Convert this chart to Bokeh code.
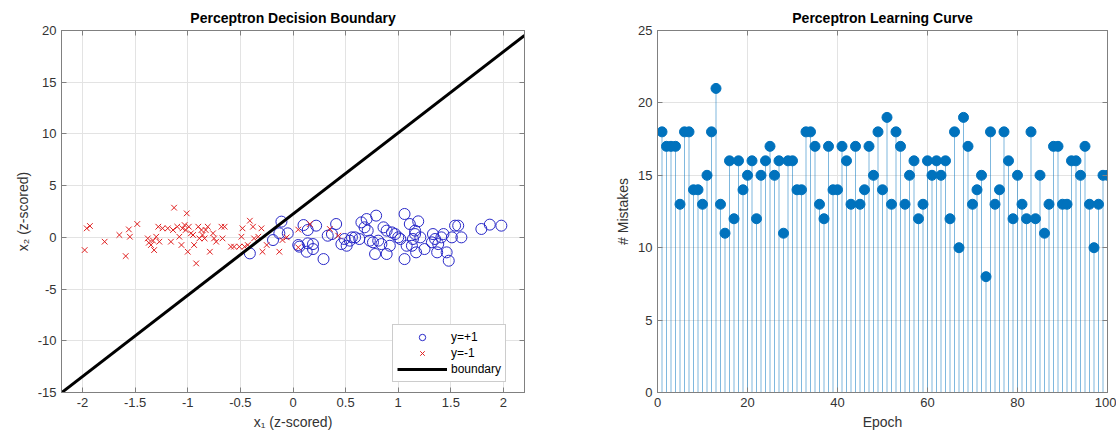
from bokeh.plotting import figure
from bokeh.layouts import row
from bokeh.models import LinearAxis, Range1d, FixedTicker, Legend, LegendItem, ColumnDataSource
from bokeh.embed import file_html
from bokeh.resources import INLINE

# ---------------- data: decision boundary plot ----------------
pos_x1 = [-0.41, -0.19, -0.11, -0.13, -0.05, 0.05, 0.06, 0.10, 0.13, 0.14, 0.14, 0.19, 0.19, 0.22,
          0.29, 0.33, 0.37, 0.41, 0.46, 0.49, 0.51, 0.54, 0.56, 0.59, 0.63, 0.65, 0.68, 0.70, 0.71,
          0.73, 0.76, 0.78, 0.79, 0.81, 0.84, 0.86, 0.89, 0.89, 0.92, 0.94, 0.97, 1.00, 1.02, 1.06,
          1.06, 1.08, 1.11, 1.13, 1.14, 1.16, 1.16, 1.17, 1.19, 1.21, 1.25, 1.32, 1.33, 1.35, 1.37,
          1.38, 1.41, 1.43, 1.46, 1.48, 1.51, 1.54, 1.57, 1.60, 1.79, 1.87, 1.98]
pos_x2 = [-1.55, -0.26, 1.52, 0.39, 0.39, -0.74, -0.90, 1.19, -1.39, 0.71, -0.58, -1.13, -0.65, 1.13,
          -2.10, 0.16, 0.32, 1.29, -0.65, -0.16, -0.81, -0.32, 0.00, 0.00, -0.16, 1.45, 0.97, 1.77, 0.65,
          -0.32, -0.48, -1.61, 2.10, -0.32, -0.65, 0.97, 0.65, -1.61, -0.81, 0.48, 0.32, 0.00, -0.16, -2.10,
          2.26, -0.81, 1.29, -0.81, -0.16, 0.65, 0.32, -1.45, 1.55, 0.00, -1.13, -0.48, 0.32, -0.16, -1.45,
          -0.65, 0.00, 0.32, -1.45, -2.26, 0.00, 1.13, 1.13, 0.00, 0.81, 1.23, 1.13]

neg_x1 = [-1.98, -1.96, -1.93, -1.79, -1.65, -1.59, -1.56, -1.55, -1.48, -1.38, -1.37, -1.35, -1.33,
          -1.32, -1.30, -1.28, -1.27, -1.24, -1.19, -1.16, -1.14, -1.13, -1.10, -1.08, -1.06, -1.05,
          -1.03, -1.02, -1.01, -1.00, -0.99, -0.97, -0.95, -0.94, -0.92, -0.90, -0.89, -0.87, -0.86,
          -0.84, -0.83, -0.81, -0.79, -0.76, -0.75, -0.73, -0.68, -0.67, -0.65, -0.59, -0.56, -0.51,
          -0.49, -0.48, -0.46, -0.43, -0.41, -0.38, -0.37, -0.33, -0.30, -0.29, -0.25, -0.13, -0.10,
          -0.06, 0.05, 0.05, 0.16, 0.35, 0.43]
neg_x2 = [-1.23, 0.87, 1.10, -0.42, 0.23, -1.81, 0.77, 0.06, 1.29, -0.10, -0.52, -0.74, -0.32,
          -1.23, 0.06, 1.03, -0.42, 0.87, 0.87, -0.42, 0.71, 2.87, 1.03, 0.06, -0.74, 0.87,
          1.19, 0.71, 2.32, -1.39, 1.03, 0.39, 0.23, -0.74, -2.52, 1.03, -0.10, 0.71, 0.23,
          -0.10, 0.71, 1.03, -1.39, 0.39, -0.10, -0.42, 1.03, -0.10, 1.03, -0.90, -0.90, -0.90,
          0.06, 0.87, -0.90, -0.74, 1.61, 1.03, -0.10, 0.06, 0.87, -1.39, -0.74, -1.39, -0.26,
          0.00, 0.75, -0.97, 1.29, 0.81, 0.16]

boundary_slope = 7.85
boundary_intercept = 2.25
x1_limits = [-2.2, 2.2]
x2_limits = [-15, 20]

x1_ticks = [-2, -1.5, -1, -0.5, 0, 0.5, 1, 1.5, 2]
x1_tick_labels = ["-2", "-1.5", "-1", "-0.5", "0", "0.5", "1", "1.5", "2"]
x2_ticks = [-15, -10, -5, 0, 5, 10, 15, 20]
x2_tick_labels = ["-15", "-10", "-5", "0", "5", "10", "15", "20"]

# ---------------- data: learning curve ----------------
epochs = list(range(1, 101))
mistakes = [18, 17, 17, 17, 13, 18, 18, 14, 14, 13,
            15, 18, 21, 13, 11, 16, 12, 16, 14, 15,
            16, 12, 15, 16, 17, 15, 16, 11, 16, 16,
            14, 14, 18, 18, 17, 13, 12, 17, 14, 14,
            17, 16, 13, 17, 13, 14, 17, 15, 18, 14,
            19, 13, 18, 17, 13, 15, 16, 12, 13, 16,
            15, 16, 15, 16, 12, 18, 10, 19, 17, 13,
            14, 15, 8, 18, 13, 14, 18, 16, 12, 15,
            13, 12, 18, 12, 15, 11, 13, 17, 17, 13,
            13, 16, 16, 15, 17, 13, 10, 13, 15, 15]
epoch_ticks = [0, 20, 40, 60, 80, 100]
mistake_ticks = [0, 5, 10, 15, 20, 25]

FONT = "Liberation Sans"
AXIS_COLOR = "#808080"
LABEL_COLOR = "#333333"
GRID_COLOR = "#e3e3e3"


def style_axis(ax, ticks, overrides=None):
    ax.ticker = FixedTicker(ticks=ticks)
    ax.axis_line_color = AXIS_COLOR
    ax.major_tick_line_color = AXIS_COLOR
    ax.major_tick_in = 5
    ax.major_tick_out = 0
    ax.minor_tick_line_color = None
    ax.major_label_text_font = FONT
    ax.major_label_text_font_size = "13px"
    ax.major_label_text_color = LABEL_COLOR
    ax.axis_label_text_font = FONT
    ax.axis_label_text_font_size = "14px"
    ax.axis_label_text_font_style = "normal"
    ax.axis_label_text_color = LABEL_COLOR
    ax.major_label_standoff = 5
    ax.axis_label_standoff = 4
    if overrides:
        ax.major_label_overrides = overrides


def mirror_axis(p, side, ticks):
    ax = LinearAxis()
    ax.ticker = FixedTicker(ticks=ticks)
    ax.axis_line_color = AXIS_COLOR
    ax.major_tick_line_color = AXIS_COLOR
    ax.major_tick_in = 5
    ax.major_tick_out = 0
    ax.minor_tick_line_color = None
    ax.major_label_text_font_size = "1px"
    ax.major_label_text_color = None
    ax.major_label_standoff = 0
    p.add_layout(ax, side)


def style_fig(p, title):
    p.title.text = title
    p.title.align = "center"
    p.title.text_font = FONT
    p.title.text_font_size = "14px"
    p.title.text_font_style = "bold"
    p.title.text_color = "#000000"
    p.outline_line_color = AXIS_COLOR
    p.grid.grid_line_color = GRID_COLOR
    p.background_fill_color = "white"
    p.border_fill_color = "white"


# ---------------- left figure ----------------
p1 = figure(width=590, height=435, x_range=Range1d(*x1_limits), y_range=Range1d(*x2_limits),
            output_backend="svg", toolbar_location=None,
            min_border_left=61, min_border_right=66, min_border_top=30, min_border_bottom=43)
style_fig(p1, "Perceptron Decision Boundary")
style_axis(p1.xaxis[0], x1_ticks, dict(zip(x1_ticks, x1_tick_labels)))
style_axis(p1.yaxis[0], x2_ticks, dict(zip(x2_ticks, x2_tick_labels)))
p1.xaxis[0].axis_label = "x\u2081 (z-scored)"
p1.yaxis[0].axis_label = "x\u2082 (z-scored)"
p1.xgrid.ticker = FixedTicker(ticks=x1_ticks)
p1.ygrid.ticker = FixedTicker(ticks=x2_ticks)
mirror_axis(p1, "above", x1_ticks)
mirror_axis(p1, "right", x2_ticks)

r_pos = p1.scatter(pos_x1, pos_x2, marker="circle", size=11, fill_color=None,
                   line_color="#2828c8", line_width=1)
r_neg = p1.scatter(neg_x1, neg_x2, marker="x", size=8, line_color="#e02020", line_width=1)
bx = x1_limits
by = [boundary_intercept + boundary_slope * v for v in bx]
r_line = p1.line(bx, by, line_color="black", line_width=3)

legend = Legend(items=[LegendItem(label="y=+1", renderers=[r_pos]),
                       LegendItem(label="y=-1", renderers=[r_neg]),
                       LegendItem(label="boundary", renderers=[r_line])],
                location=(331, 10))
legend.glyph_width = 50
legend.glyph_height = 16
legend.spacing = 0
legend.padding = 4
legend.margin = 0
legend.label_text_font = FONT
legend.label_text_font_size = "12px"
legend.label_text_color = "#000000"
legend.label_standoff = 4
legend.border_line_color = "#999999"
legend.background_fill_color = "white"
legend.background_fill_alpha = 1.0
p1.add_layout(legend)

# ---------------- right figure ----------------
p2 = figure(width=526, height=435, x_range=Range1d(0, 100), y_range=Range1d(0, 25),
            output_backend="svg", toolbar_location=None,
            min_border_left=67, min_border_right=9, min_border_top=30, min_border_bottom=43)
style_fig(p2, "Perceptron Learning Curve")
style_axis(p2.xaxis[0], epoch_ticks)
style_axis(p2.yaxis[0], mistake_ticks)
p2.xaxis[0].axis_label = "Epoch"
p2.yaxis[0].axis_label = "# Mistakes"
p2.xgrid.ticker = FixedTicker(ticks=epoch_ticks)
p2.ygrid.ticker = FixedTicker(ticks=mistake_ticks)
mirror_axis(p2, "above", epoch_ticks)
mirror_axis(p2, "right", mistake_ticks)

src = ColumnDataSource(data=dict(epoch=epochs, mistakes=mistakes, base=[0] * len(epochs)))
p2.segment(x0="epoch", y0="base", x1="epoch", y1="mistakes", source=src,
           line_color="#0072BD", line_width=1, line_alpha=0.5)
p2.scatter(x="epoch", y="mistakes", source=src, marker="circle", size=10,
           fill_color="#0072BD", line_color="#0072BD")

layout = row(p1, p2)
open("out.html", "w").write(file_html(layout, INLINE))
